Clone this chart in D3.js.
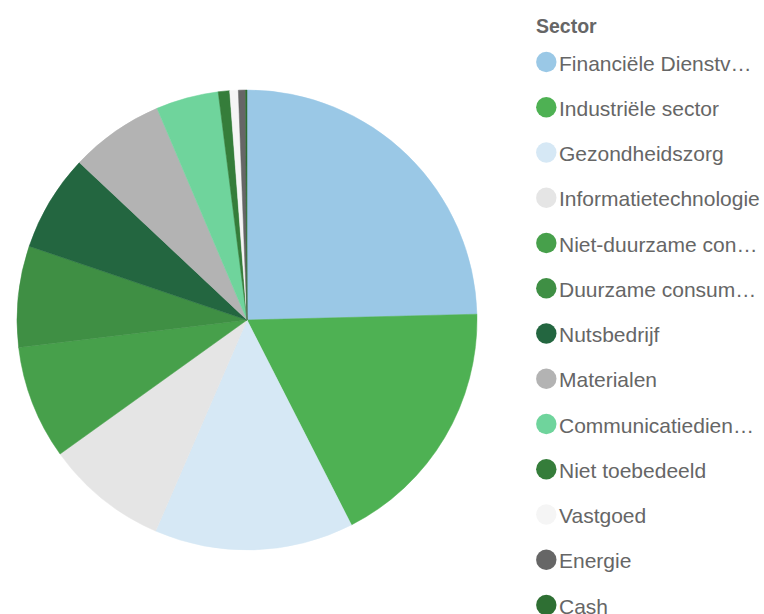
<!DOCTYPE html>
<html>
<head>
<meta charset="utf-8">
<script src="https://cdn.jsdelivr.net/npm/d3@7"></script>
<style>
  html, body { margin: 0; padding: 0; background: #ffffff; }
  svg { display: block; }
</style>
</head>
<body>
<svg id="chart" width="764" height="614"></svg>
<script>
const categories = [
  "Financiële Dienstverlening",
  "Industriële sector",
  "Gezondheidszorg",
  "Informatietechnologie",
  "Niet-duurzame consumptiegoederen",
  "Duurzame consumptiegoederen",
  "Nutsbedrijf",
  "Materialen",
  "Communicatiediensten",
  "Niet toebedeeld",
  "Vastgoed",
  "Energie",
  "Cash"
];
const values = [24.6, 17.9, 14.0, 8.6, 8.0, 7.1, 6.8, 6.6, 4.4, 0.8, 0.6, 0.5, 0.1];
const colors = [
  "#9ac8e6", "#4eb153", "#d6e8f5", "#e5e5e5", "#47a04b", "#3f8f44",
  "#236640", "#b3b3b3", "#6fd49c", "#357d3a", "#f5f5f5", "#666666", "#2e6f33"
];
const legendTitle = "Sector";

const data = categories.map((c, i) => ({ name: c, value: values[i], color: colors[i] }));

const svg = d3.select("#chart");
const cx = 247, cy = 320, radius = 230;

const pie = d3.pie().sort(null).value(d => d.value);
const arc = d3.arc().innerRadius(0).outerRadius(radius);

const g = svg.append("g").attr("transform", `translate(${cx},${cy})`);
g.selectAll("path")
  .data(pie(data))
  .join("path")
  .attr("d", arc)
  .attr("fill", d => d.data.color)
  .attr("stroke", d => d.data.color)
  .attr("stroke-width", 0.5);

// Legend
const color = d3.scaleOrdinal().domain(categories).range(colors);
const legendY = d3.scalePoint().domain(categories).range([62, 605]);
const legend = svg.append("g");
const fontFamily = "'Liberation Sans', Arial, Helvetica, sans-serif";

legend.append("text")
  .attr("x", 536)
  .attr("y", 33)
  .attr("font-family", fontFamily)
  .attr("font-size", 19.5)
  .attr("font-weight", "bold")
  .attr("fill", "#666666")
  .text(legendTitle);

const items = legend.selectAll("g.item")
  .data(categories)
  .join("g")
  .attr("class", "item")
  .attr("transform", d => `translate(0,${legendY(d)})`);

items.append("circle")
  .attr("cx", 546.3)
  .attr("cy", 0)
  .attr("r", 10.2)
  .attr("fill", d => color(d));

const maxW = 203;
items.append("text")
  .attr("x", 559)
  .attr("y", 8.5)
  .attr("font-family", fontFamily)
  .attr("font-size", 21)
  .attr("fill", "#666666")
  .text(d => d)
  .each(function(d) {
    const t = d3.select(this);
    if (this.getComputedTextLength() <= maxW) return;
    let s = d;
    while (s.length > 1) {
      s = s.slice(0, -1);
      t.text(s.trimEnd() + "…");
      if (this.getComputedTextLength() <= maxW) break;
    }
  });
</script>
</body>
</html>
